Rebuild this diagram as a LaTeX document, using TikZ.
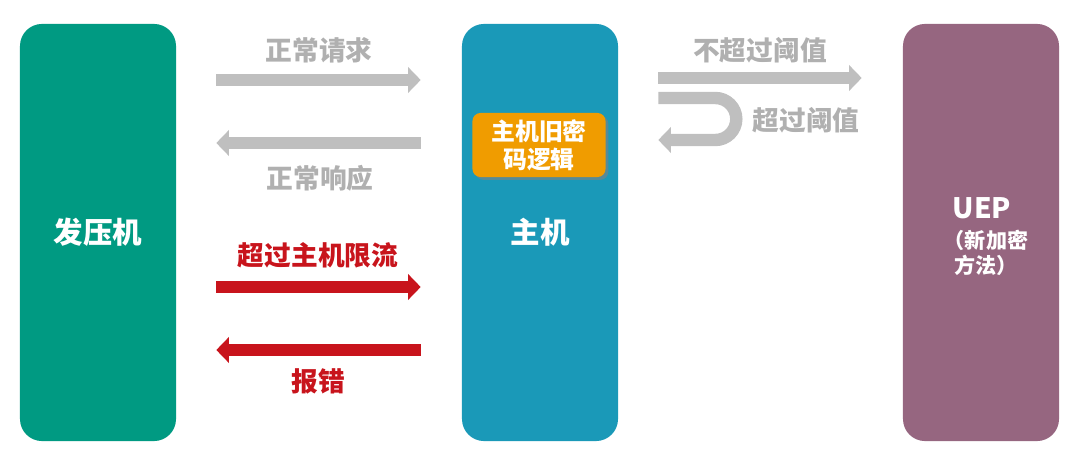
\documentclass[tikz,border=0pt]{standalone}
\usepackage{fontspec}
\setmainfont{Noto Sans CJK SC}
\usetikzlibrary{arrows.meta,calc,shadows}

\begin{document}
\begin{tikzpicture}[x=0.025cm,y=-0.025cm,font=\bfseries]
  \definecolor{gencol}{RGB}{0,154,130}
  \definecolor{hostcol}{RGB}{26,153,184}
  \definecolor{uepcol}{RGB}{150,102,128}
  \definecolor{logiccol}{RGB}{240,156,0}
  \definecolor{okcol}{RGB}{191,191,191}
  \definecolor{oktext}{RGB}{176,176,176}
  \definecolor{errcol}{RGB}{200,20,28}

  \tikzset{
    sysbox/.style={rounded corners=0.55cm,minimum width=3.9cm,minimum height=10.425cm,inner sep=0pt,text=white,font=\bfseries\fontsize{21}{25}\selectfont},
    logicbox/.style={rounded corners=0.2cm,fill=logiccol,minimum width=3.325cm,minimum height=1.6cm,inner sep=0pt,align=center,text=white,
      font=\bfseries\fontsize{17}{20}\selectfont,drop shadow={shadow xshift=2pt,shadow yshift=-2pt,opacity=0.6}},
    okarrow/.style={draw=okcol,line width=8.8pt,-{Triangle[length=9pt,width=18pt]}},
    errarrow/.style={draw=errcol,line width=8.8pt,-{Triangle[length=9pt,width=18pt]}},
    oklabel/.style={text=oktext,font=\bfseries\fontsize{19}{22}\selectfont},
    errlabel/.style={text=errcol,font=\bfseries\fontsize{19}{22}\selectfont}
  }

  \useasboundingbox (0,0) rectangle (1080,464);

  % ---------------- the three systems ----------------
  \node[sysbox,fill=gencol] (gen) at (98,232.5) {发压机};
  \node[sysbox,fill=hostcol] (host) at (540,232.5) {主机};
  \node[sysbox,fill=uepcol] (uep) at (981,232.5) {};
  \node[text=white,font=\bfseries\fontsize{20}{24}\selectfont] (ueptitle) at (982,208) {UEP};
  \node[text=white,align=center,font=\bfseries\fontsize{15}{18}\selectfont] (uepnote) at (986,253) {（新加密\\方法）};

  % Old encryption logic inside the host
  \node[logicbox] (oldlogic) at (539,145) {主机旧密\\码逻辑};

  % ---------------- generator <-> host ----------------
  \draw[okarrow] ($(gen.east)+(40,-152.5)$) -- ($(host.west)+(-41,-152.5)$);
  \node[oklabel] at (319,50) {正常请求};

  \draw[okarrow] ($(host.west)+(-41,-89.5)$) -- ($(gen.east)+(40,-89.5)$);
  \node[oklabel] at (320,178) {正常响应};

  \draw[errarrow] ($(gen.east)+(40,54.5)$) -- ($(host.west)+(-41,54.5)$);
  \node[errlabel] at (318,255) {超过主机限流};

  \draw[errarrow] ($(host.west)+(-41,117.5)$) -- ($(gen.east)+(40,117.5)$);
  \node[errlabel] at (318,381) {报错};

  % ---------------- host <-> UEP ----------------
  \draw[okarrow] ($(host.east)+(40,-154.5)$) -- ($(uep.west)+(-41,-154.5)$);
  \node[oklabel] at (760,50) {不超过阈值};

  % Threshold exceeded: turn back
  \draw[okarrow] ($(host.east)+(40,-134.5)$) -- ++(57,0)
    arc[start angle=90,end angle=-90,radius=0.525cm] -- ($(host.east)+(40,-92.5)$);
  \node[oklabel] at (806,120) {超过阈值};
\end{tikzpicture}
\end{document}
